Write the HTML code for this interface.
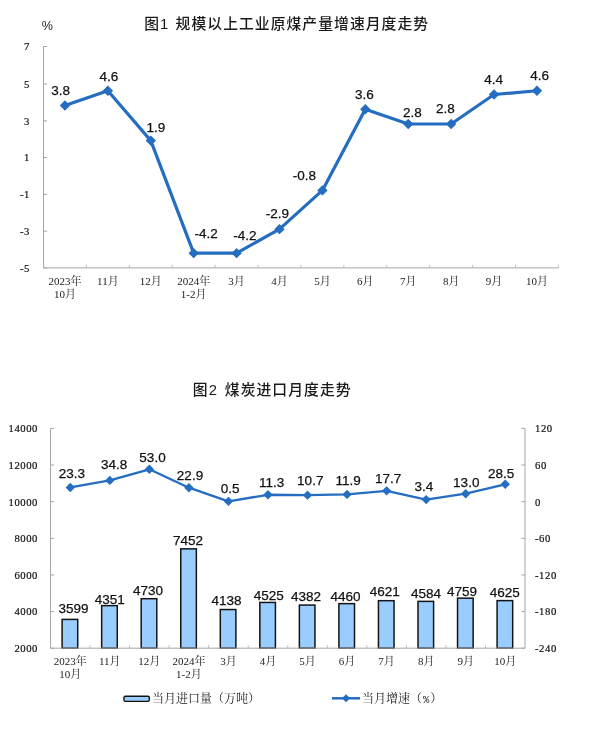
<!DOCTYPE html>
<html lang="zh-CN">
<head>
<meta charset="utf-8">
<title>图1 规模以上工业原煤产量增速月度走势 / 图2 煤炭进口月度走势</title>
<style>
html,body{margin:0;padding:0;background:#fff;}
body{width:600px;height:734px;overflow:hidden;}
svg{display:block;}
text{fill:#111;white-space:pre;}
.title{font-family:"Liberation Sans", "Noto Sans CJK SC", sans-serif;font-size:14.8px;letter-spacing:1.05px;font-weight:500;fill:#1a1a1a;}
.pct{font-family:"Liberation Sans", "Noto Sans CJK SC", sans-serif;font-size:12.6px;fill:#222;}
.dl{font-family:"Liberation Sans", "Noto Sans CJK SC", sans-serif;font-size:13.5px;fill:#111;stroke:#111;stroke-width:0.25px;}
.ytick{font-family:"Liberation Serif", "Noto Serif CJK SC", serif;font-size:10.7px;letter-spacing:0.55px;fill:#111;stroke:#111;stroke-width:0.2px;}
.xtick{font-family:"Liberation Serif", "Noto Serif CJK SC", serif;font-size:11px;fill:#222;}
.leg{font-family:"Liberation Serif", "Noto Serif CJK SC", serif;font-size:12px;fill:#222;}
.mono{font-family:"Liberation Mono",monospace;font-size:10.5px;}
.ax{fill:none;stroke:#a6a6a6;stroke-width:1;}
.tk{stroke-width:0.7;}
</style>
</head>
<body>
<svg width="600" height="734" viewBox="0 0 600 734">
<rect width="600" height="734" fill="#fff"/>
<text y="28.8" class="title"><tspan x="144.2">图1  </tspan><tspan x="175.6">规模以上工业原煤产量增速月度走势</tspan></text>
<text x="41.8" y="29.6" class="pct">%</text>
<path d="M43.5 46.5V267.9H558.4" class="ax"/>
<path d="M43.5 46.50h3.6M43.5 84.00h3.6M43.5 120.90h3.6M43.5 157.50h3.6M43.5 194.40h3.6M43.5 231.20h3.6M43.5 267.90h3.6" class="ax"/>
<path d="M86.41 267.9v-3M129.32 267.9v-3M172.22 267.9v-3M215.13 267.9v-3M258.04 267.9v-3M300.95 267.9v-3M343.86 267.9v-3M386.77 267.9v-3M429.67 267.9v-3M472.58 267.9v-3M515.49 267.9v-3M558.40 267.9v-3" class="ax tk"/>
<text x="30" y="50.40" text-anchor="end" class="ytick">7</text>
<text x="30" y="87.90" text-anchor="end" class="ytick">5</text>
<text x="30" y="124.80" text-anchor="end" class="ytick">3</text>
<text x="30" y="161.40" text-anchor="end" class="ytick">1</text>
<text x="30" y="198.30" text-anchor="end" class="ytick">-1</text>
<text x="30" y="235.10" text-anchor="end" class="ytick">-3</text>
<text x="30" y="271.80" text-anchor="end" class="ytick">-5</text>
<text x="64.95" y="284.50" text-anchor="middle" class="xtick">2023年</text>
<text x="64.95" y="298.00" text-anchor="middle" class="xtick">10月</text>
<text x="107.86" y="284.50" text-anchor="middle" class="xtick">11月</text>
<text x="150.77" y="284.50" text-anchor="middle" class="xtick">12月</text>
<text x="193.68" y="284.50" text-anchor="middle" class="xtick">2024年</text>
<text x="193.68" y="298.00" text-anchor="middle" class="xtick">1-2月</text>
<text x="236.59" y="284.50" text-anchor="middle" class="xtick">3月</text>
<text x="279.50" y="284.50" text-anchor="middle" class="xtick">4月</text>
<text x="322.40" y="284.50" text-anchor="middle" class="xtick">5月</text>
<text x="365.31" y="284.50" text-anchor="middle" class="xtick">6月</text>
<text x="408.22" y="284.50" text-anchor="middle" class="xtick">7月</text>
<text x="451.13" y="284.50" text-anchor="middle" class="xtick">8月</text>
<text x="494.04" y="284.50" text-anchor="middle" class="xtick">9月</text>
<text x="536.95" y="284.50" text-anchor="middle" class="xtick">10月</text>
<polyline points="64.95,105.54 107.86,90.78 150.77,140.59 193.68,253.14 236.59,253.14 279.50,229.15 322.40,190.41 365.31,109.23 408.22,123.99 451.13,123.99 494.04,94.47 536.95,90.78" fill="none" stroke="#246dc0" stroke-width="3.2" stroke-linejoin="round"/>
<path d="M64.95 100.34L70.15 105.54L64.95 110.74L59.75 105.54Z" fill="#246dc0"/>
<path d="M107.86 85.58L113.06 90.78L107.86 95.98L102.66 90.78Z" fill="#246dc0"/>
<path d="M150.77 135.39L155.97 140.59L150.77 145.79L145.57 140.59Z" fill="#246dc0"/>
<path d="M193.68 247.94L198.88 253.14L193.68 258.34L188.48 253.14Z" fill="#246dc0"/>
<path d="M236.59 247.94L241.79 253.14L236.59 258.34L231.39 253.14Z" fill="#246dc0"/>
<path d="M279.50 223.95L284.70 229.15L279.50 234.35L274.30 229.15Z" fill="#246dc0"/>
<path d="M322.40 185.21L327.60 190.41L322.40 195.61L317.20 190.41Z" fill="#246dc0"/>
<path d="M365.31 104.03L370.51 109.23L365.31 114.43L360.11 109.23Z" fill="#246dc0"/>
<path d="M408.22 118.79L413.42 123.99L408.22 129.19L403.02 123.99Z" fill="#246dc0"/>
<path d="M451.13 118.79L456.33 123.99L451.13 129.19L445.93 123.99Z" fill="#246dc0"/>
<path d="M494.04 89.27L499.24 94.47L494.04 99.67L488.84 94.47Z" fill="#246dc0"/>
<path d="M536.95 85.58L542.15 90.78L536.95 95.98L531.75 90.78Z" fill="#246dc0"/>
<text x="60.75" y="95" text-anchor="middle" class="dl">3.8</text>
<text x="109" y="81.25" text-anchor="middle" class="dl">4.6</text>
<text x="155.9" y="131.75" text-anchor="middle" class="dl">1.9</text>
<text x="206.25" y="237.5" text-anchor="middle" class="dl">-4.2</text>
<text x="245" y="240" text-anchor="middle" class="dl">-4.2</text>
<text x="277.5" y="217.5" text-anchor="middle" class="dl">-2.9</text>
<text x="304.5" y="180" text-anchor="middle" class="dl">-0.8</text>
<text x="364.4" y="99.25" text-anchor="middle" class="dl">3.6</text>
<text x="412.5" y="116.5" text-anchor="middle" class="dl">2.8</text>
<text x="445.5" y="113" text-anchor="middle" class="dl">2.8</text>
<text x="493.75" y="84.25" text-anchor="middle" class="dl">4.4</text>
<text x="539.6" y="80" text-anchor="middle" class="dl">4.6</text>
<text y="394.8" class="title"><tspan x="192.8">图2  </tspan><tspan x="224.8">煤炭进口月度走势</tspan></text>
<rect x="62.12" y="619.41" width="15.6" height="28.79" fill="#99ccff" stroke="#141414" stroke-width="1.5"/>
<rect x="101.66" y="605.64" width="15.6" height="42.56" fill="#99ccff" stroke="#141414" stroke-width="1.5"/>
<rect x="141.20" y="598.70" width="15.6" height="49.50" fill="#99ccff" stroke="#141414" stroke-width="1.5"/>
<rect x="180.75" y="548.84" width="15.6" height="99.36" fill="#99ccff" stroke="#141414" stroke-width="1.5"/>
<rect x="220.29" y="609.54" width="15.6" height="38.66" fill="#99ccff" stroke="#141414" stroke-width="1.5"/>
<rect x="259.83" y="602.45" width="15.6" height="45.75" fill="#99ccff" stroke="#141414" stroke-width="1.5"/>
<rect x="299.37" y="605.07" width="15.6" height="43.13" fill="#99ccff" stroke="#141414" stroke-width="1.5"/>
<rect x="338.91" y="603.64" width="15.6" height="44.56" fill="#99ccff" stroke="#141414" stroke-width="1.5"/>
<rect x="378.45" y="600.69" width="15.6" height="47.51" fill="#99ccff" stroke="#141414" stroke-width="1.5"/>
<rect x="418.00" y="601.37" width="15.6" height="46.83" fill="#99ccff" stroke="#141414" stroke-width="1.5"/>
<rect x="457.54" y="598.16" width="15.6" height="50.04" fill="#99ccff" stroke="#141414" stroke-width="1.5"/>
<rect x="497.08" y="600.62" width="15.6" height="47.58" fill="#99ccff" stroke="#141414" stroke-width="1.5"/>
<path d="M50.5 428.4V648.2H525.0V428.4" class="ax"/>
<path d="M50.5 428.40h3.6M525.0 428.40h-3.6M50.5 465.03h3.6M525.0 465.03h-3.6M50.5 501.67h3.6M525.0 501.67h-3.6M50.5 538.30h3.6M525.0 538.30h-3.6M50.5 574.93h3.6M525.0 574.93h-3.6M50.5 611.57h3.6M525.0 611.57h-3.6M50.5 648.20h3.6M525.0 648.20h-3.6" class="ax"/>
<path d="M90.04 648.2v-3M129.58 648.2v-3M169.12 648.2v-3M208.67 648.2v-3M248.21 648.2v-3M287.75 648.2v-3M327.29 648.2v-3M366.83 648.2v-3M406.38 648.2v-3M445.92 648.2v-3M485.46 648.2v-3" class="ax tk"/>
<text x="38" y="432.30" text-anchor="end" class="ytick">14000</text>
<text x="535" y="432.30" class="ytick">120</text>
<text x="38" y="468.93" text-anchor="end" class="ytick">12000</text>
<text x="535" y="468.93" class="ytick">60</text>
<text x="38" y="505.57" text-anchor="end" class="ytick">10000</text>
<text x="535" y="505.57" class="ytick">0</text>
<text x="38" y="542.20" text-anchor="end" class="ytick">8000</text>
<text x="535" y="542.20" class="ytick">-60</text>
<text x="38" y="578.83" text-anchor="end" class="ytick">6000</text>
<text x="535" y="578.83" class="ytick">-120</text>
<text x="38" y="615.47" text-anchor="end" class="ytick">4000</text>
<text x="535" y="615.47" class="ytick">-180</text>
<text x="38" y="652.10" text-anchor="end" class="ytick">2000</text>
<text x="535" y="652.10" class="ytick">-240</text>
<text x="70.27" y="664.50" text-anchor="middle" class="xtick">2023年</text>
<text x="70.27" y="678.00" text-anchor="middle" class="xtick">10月</text>
<text x="109.81" y="664.50" text-anchor="middle" class="xtick">11月</text>
<text x="149.35" y="664.50" text-anchor="middle" class="xtick">12月</text>
<text x="188.90" y="664.50" text-anchor="middle" class="xtick">2024年</text>
<text x="188.90" y="678.00" text-anchor="middle" class="xtick">1-2月</text>
<text x="228.44" y="664.50" text-anchor="middle" class="xtick">3月</text>
<text x="267.98" y="664.50" text-anchor="middle" class="xtick">4月</text>
<text x="307.52" y="664.50" text-anchor="middle" class="xtick">5月</text>
<text x="347.06" y="664.50" text-anchor="middle" class="xtick">6月</text>
<text x="386.60" y="664.50" text-anchor="middle" class="xtick">7月</text>
<text x="426.15" y="664.50" text-anchor="middle" class="xtick">8月</text>
<text x="465.69" y="664.50" text-anchor="middle" class="xtick">9月</text>
<text x="505.23" y="664.50" text-anchor="middle" class="xtick">10月</text>
<text x="73.5" y="613" text-anchor="middle" class="dl">3599</text>
<text x="109.75" y="603.75" text-anchor="middle" class="dl">4351</text>
<text x="148.1" y="595" text-anchor="middle" class="dl">4730</text>
<text x="188.1" y="545" text-anchor="middle" class="dl">7452</text>
<text x="226.6" y="605" text-anchor="middle" class="dl">4138</text>
<text x="268.75" y="600" text-anchor="middle" class="dl">4525</text>
<text x="306" y="600.5" text-anchor="middle" class="dl">4382</text>
<text x="345.5" y="600.5" text-anchor="middle" class="dl">4460</text>
<text x="384.75" y="596.25" text-anchor="middle" class="dl">4621</text>
<text x="426" y="598" text-anchor="middle" class="dl">4584</text>
<text x="461.9" y="595.75" text-anchor="middle" class="dl">4759</text>
<text x="504.75" y="597" text-anchor="middle" class="dl">4625</text>
<polyline points="70.27,487.44 109.81,480.42 149.35,469.31 188.90,487.68 228.44,501.36 267.98,494.77 307.52,495.13 347.06,494.40 386.60,490.86 426.15,499.59 465.69,493.73 505.23,484.27" fill="none" stroke="#246dc0" stroke-width="2.3" stroke-linejoin="round"/>
<path d="M70.27 482.74L74.97 487.44L70.27 492.14L65.57 487.44Z" fill="#246dc0"/>
<path d="M109.81 475.72L114.51 480.42L109.81 485.12L105.11 480.42Z" fill="#246dc0"/>
<path d="M149.35 464.61L154.05 469.31L149.35 474.01L144.65 469.31Z" fill="#246dc0"/>
<path d="M188.90 482.98L193.60 487.68L188.90 492.38L184.20 487.68Z" fill="#246dc0"/>
<path d="M228.44 496.66L233.14 501.36L228.44 506.06L223.74 501.36Z" fill="#246dc0"/>
<path d="M267.98 490.07L272.68 494.77L267.98 499.47L263.28 494.77Z" fill="#246dc0"/>
<path d="M307.52 490.43L312.22 495.13L307.52 499.83L302.82 495.13Z" fill="#246dc0"/>
<path d="M347.06 489.70L351.76 494.40L347.06 499.10L342.36 494.40Z" fill="#246dc0"/>
<path d="M386.60 486.16L391.30 490.86L386.60 495.56L381.90 490.86Z" fill="#246dc0"/>
<path d="M426.15 494.89L430.85 499.59L426.15 504.29L421.45 499.59Z" fill="#246dc0"/>
<path d="M465.69 489.03L470.39 493.73L465.69 498.43L460.99 493.73Z" fill="#246dc0"/>
<path d="M505.23 479.57L509.93 484.27L505.23 488.97L500.53 484.27Z" fill="#246dc0"/>
<text x="71.9" y="477.5" text-anchor="middle" class="dl">23.3</text>
<text x="114.1" y="469.25" text-anchor="middle" class="dl">34.8</text>
<text x="152.5" y="461.75" text-anchor="middle" class="dl">53.0</text>
<text x="190" y="480" text-anchor="middle" class="dl">22.9</text>
<text x="230.25" y="492.5" text-anchor="middle" class="dl">0.5</text>
<text x="271.6" y="487" text-anchor="middle" class="dl">11.3</text>
<text x="310.25" y="484.5" text-anchor="middle" class="dl">10.7</text>
<text x="348.1" y="484.5" text-anchor="middle" class="dl">11.9</text>
<text x="388.1" y="482.5" text-anchor="middle" class="dl">17.7</text>
<text x="424" y="491.25" text-anchor="middle" class="dl">3.4</text>
<text x="466.25" y="487" text-anchor="middle" class="dl">13.0</text>
<text x="501.1" y="478.25" text-anchor="middle" class="dl">28.5</text>
<rect x="124" y="696.2" width="25.3" height="5.2" rx="1.3" fill="#99ccff" stroke="#111" stroke-width="1.4"/>
<text x="152" y="703" class="leg">当月进口量（万吨）</text>
<path d="M332 698.3H360" stroke="#246dc0" stroke-width="2.5"/>
<path d="M346.00 694.30L350.00 698.30L346.00 702.30L342.00 698.30Z" fill="#246dc0"/>
<text x="362" y="703" class="leg">当月增速（<tspan class="mono" dx="1">%</tspan><tspan dx="0.8">）</tspan></text>
</svg>
</body>
</html>
